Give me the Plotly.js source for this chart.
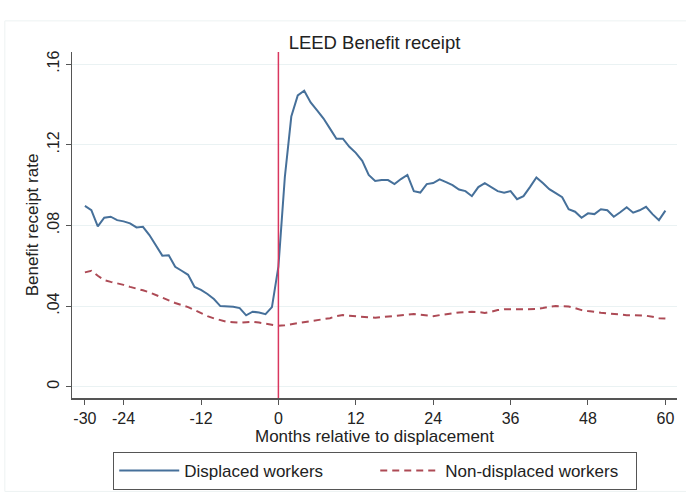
<!DOCTYPE html>
<html>
<head>
<meta charset="utf-8">
<script src="https://cdn.plot.ly/plotly-3.0.1.min.js"></script>
<style>
html,body{margin:0;padding:0;background:#fff;}
#chart{width:686px;height:502px;}
</style>
</head>
<body>
<div id="chart"></div>
<script>
var months = [];
for (var m = -30; m <= 60; m++) months.push(m);

var displaced = [
 0.0897,0.0876,0.0795,0.0838,0.0843,0.0826,0.0820,0.0810,0.0790,0.0793,
 0.0752,0.0700,0.0650,0.0652,0.0595,0.0575,0.0555,0.0495,0.0480,0.0460,
 0.0435,0.0400,0.0397,0.0397,0.0390,0.0354,0.0372,0.0368,0.0360,0.0395,
 0.0595,
 0.1040,0.1340,0.1445,0.1468,0.1410,0.1370,0.1330,0.1280,0.1230,0.1230,
 0.1190,0.1160,0.1120,0.1050,0.1020,0.1025,0.1025,0.1005,0.1030,0.1050,
 0.0970,0.0963,0.1005,0.1010,0.1028,0.1015,0.1000,0.0978,0.0970,0.0945,
 0.0990,0.1010,0.0990,0.0970,0.0962,0.0970,0.0930,0.0945,0.0990,0.1038,
 0.1010,0.0980,0.0960,0.0940,0.0880,0.0868,0.0838,0.0860,0.0856,0.0880,
 0.0875,0.0843,0.0865,0.0890,0.0863,0.0875,0.0892,0.0856,0.0826,0.0873
];

var nonDisplaced = [
 0.0567,0.0575,0.0550,0.0529,0.0520,0.0513,0.0505,0.0495,0.0488,0.0478,
 0.0468,0.0455,0.0440,0.0425,0.0415,0.0405,0.0395,0.0380,0.0364,0.0350,
 0.0339,0.0330,0.0322,0.0320,0.0317,0.0320,0.0322,0.0318,0.0312,0.0308,
 0.0302,
 0.0305,0.0310,0.0314,0.0318,0.0322,0.0328,0.0333,0.0340,0.0350,0.0355,
 0.0352,0.0350,0.0347,0.0345,0.0342,0.0345,0.0348,0.0350,0.0353,0.0356,
 0.0360,0.0357,0.0353,0.0350,0.0355,0.0360,0.0365,0.0368,0.0370,0.0372,
 0.0370,0.0366,0.0372,0.0380,0.0384,0.0384,0.0384,0.0384,0.0384,0.0385,
 0.0390,0.0397,0.0400,0.0400,0.0398,0.0390,0.0380,0.0375,0.0370,0.0367,
 0.0364,0.0360,0.0358,0.0355,0.0355,0.0355,0.0352,0.0347,0.0340,0.0338
];

var xTickVals = [-30,-24,-12,0,12,24,36,48,60];
var xTickText = ["-30","-24","-12","0","12","24","36","48","60"];
var yTickVals = [0,0.04,0.08,0.12,0.16];
var yTickText = ["0",".04",".08",".12",".16"];
var seriesNames = ["Displaced workers","Non-displaced workers"];
var eventMonth = 0;

var font = "Liberation Sans, Arial, sans-serif";
var ink = "#222";

var traces = [
 {x: months, y: displaced, type: "scatter", mode: "lines", name: seriesNames[0],
  line: {color: "#46709a", width: 2}},
 {x: months, y: nonDisplaced, type: "scatter", mode: "lines", name: seriesNames[1],
  line: {color: "#ad4a55", width: 2, dash: "7px,5px"}}
];

var layout = {
 width: 686, height: 502,
 margin: {l: 72, r: 9, t: 52, b: 104},
 paper_bgcolor: "#fff", plot_bgcolor: "#fff",
 font: {family: font, color: ink, size: 16},
 title: {text: "LEED Benefit receipt", font: {family: font, size: 18.5, color: ink},
  x: 0.5, xref: "paper", y: 1, yref: "paper", yanchor: "bottom", pad: {b: 3}},
 showlegend: true,
 legend: {orientation: "h", x: 0.547, xanchor: "center", xref: "container",
  y: 0.024, yref: "container", yanchor: "bottom",
  bordercolor: "#555", borderwidth: 1, bgcolor: "#fff",
  font: {family: font, size: 17, color: ink}, itemwidth: 60,
  entrywidth: 186, entrywidthmode: "pixels", traceorder: "normal"},
 xaxis: {range: [-32, 61.8], tickvals: xTickVals, ticktext: xTickText, ticks: "outside", ticklen: 5,
  tickcolor: "#555", tickwidth: 1, showline: true, linecolor: "#555", linewidth: 1.5,
  showgrid: false, zeroline: false, tickfont: {family: font, size: 16, color: ink},
  title: {text: "Months relative to displacement", font: {family: font, size: 17, color: ink}, standoff: 0}},
 yaxis: {range: [-0.0056, 0.166], tickvals: yTickVals, ticktext: yTickText, tickangle: -90,
  ticks: "outside", ticklen: 5, tickcolor: "#555", tickwidth: 1,
  showline: true, linecolor: "#555", linewidth: 1.5,
  showgrid: true, gridcolor: "#eaf2f3", gridwidth: 1, zeroline: false,
  tickfont: {family: font, size: 16, color: ink},
  title: {text: "Benefit receipt rate", font: {family: font, size: 17, color: ink}, standoff: 2}},
 shapes: [
  {type: "line", xref: "x", yref: "paper", x0: eventMonth, x1: eventMonth, y0: 0, y1: 1,
   line: {color: "#d9365f", width: 1.5}},
  {type: "rect", xref: "paper", yref: "paper", x0: -0.111, x1: 1.02, y0: -0.27, y1: 1.09,
   line: {color: "#edf2f2", width: 1}, layer: "below"}
 ]
};

Plotly.newPlot("chart", traces, layout, {displayModeBar: false, staticPlot: true});
</script>
</body>
</html>
